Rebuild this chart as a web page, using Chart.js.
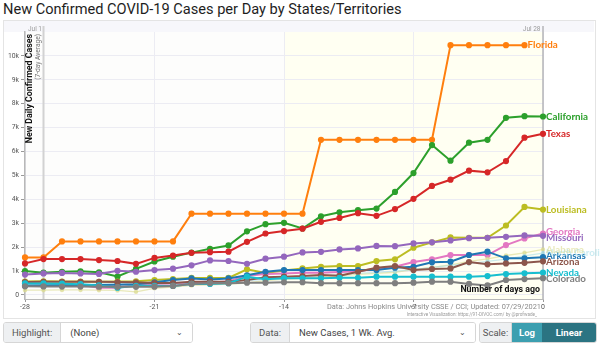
<!DOCTYPE html>
<html><head><meta charset="utf-8">
<script src="https://cdn.jsdelivr.net/npm/chart.js@4"></script>
<style>
body{margin:0;width:600px;height:346px;background:#fff;position:relative;overflow:hidden;font-family:Roboto,"Open Sans",sans-serif}
#title{position:absolute;left:3px;top:0px;font-size:14.6px;color:#1e1e1e;white-space:nowrap;line-height:18px}
#frame{position:absolute;left:3px;top:20px;width:591px;height:297px;border:1px solid #e4e4e4;background:#fff}
#c{position:absolute;left:0;top:0}
.ctl{position:absolute;top:322px;height:21px;display:flex;font-size:9.5px;color:#555;border:1px solid #d6d6d6;border-radius:3px;overflow:hidden;box-sizing:border-box}
.lab{background:#eef0f2;display:flex;align-items:center;padding:0 8px;border-right:1px solid #d6d6d6}
.sel{background:#fff;display:flex;align-items:center;padding:0 9px;flex:1;justify-content:space-between;color:#444}
.chev{font-size:8px;color:#555}
.btn{display:flex;align-items:center;justify-content:center;color:#fff;font-weight:bold}
</style></head>
<body>
<div id="title">New Confirmed COVID-19 Cases per Day by States/Territories</div>
<div id="frame"></div>
<canvas id="c" width="600" height="320"></canvas>
<div class="ctl" style="left:3px;width:190px"><div class="lab">Highlight:</div><div class="sel"><span>(None)</span><span class="chev">&#8964;</span></div></div>
<div class="ctl" style="left:250px;width:226px"><div class="lab">Data:</div><div class="sel"><span>New Cases, 1 Wk. Avg.</span><span class="chev">&#8964;</span></div></div>
<div class="ctl" style="left:479px;width:118px"><div class="lab" style="width:31px;justify-content:center;padding:0">Scale:</div><div class="btn" style="width:30px;background:#3c9fb0">Log</div><div class="btn" style="flex:1;background:#2b7482">Linear</div></div>
<script>
const days = [-28,-27,-26,-25,-24,-23,-22,-21,-20,-19,-18,-17,-16,-15,-14,-13,-12,-11,-10,-9,-8,-7,-6,-5,-4,-3,-2,-1,0];
const xTicks = [-28,-21,-14,-7,0];
const yTicks = [0,1000,2000,3000,4000,5000,6000,7000,8000,9000,10000];
const yTickLabels = ['0','1k','2k','3k','4k','5k','6k','7k','8k','9k','10k'];

const florida    = [1570,1570,2240,2240,2240,2240,2240,2240,2240,3400,3400,3400,3400,3400,3400,3400,6490,6490,6490,6490,6490,6490,6490,10450,10450,10450,10450,10450,null];
const california = [1000,930,970,990,950,770,1090,1400,1600,1770,1930,2070,2660,2960,3015,2780,3290,3460,3545,3615,4310,5100,6270,5615,6370,6490,7410,7480,7465];
const texas      = [1320,1500,1500,1500,1460,1420,1300,1550,1650,1760,1790,1810,2220,2570,2670,2770,3060,3220,3420,3310,3590,4020,4560,4820,5200,5130,5600,6580,6740];
const louisiana  = [560,570,560,560,550,560,570,625,665,710,710,710,1070,920,1020,1110,1180,1210,1210,1420,1490,1975,2200,2405,2390,2390,2905,3680,3570];
const georgia    = [480,470,460,430,300,300,420,470,480,500,520,560,800,880,900,930,930,960,990,1110,1180,1375,1490,1670,1670,1670,2085,2365,2570];
const missouri   = [850,900,920,900,880,1010,970,1040,1100,1240,1445,1420,1305,1515,1600,1780,1805,1905,1945,2050,2040,2155,2200,2280,2375,2390,2430,2490,2475];
const alabama    = [200,200,210,210,200,190,130,280,330,400,420,450,500,600,650,700,760,800,860,900,950,1060,1150,1260,1400,1510,1650,1760,1905];
const ncarolina  = [430,430,440,440,450,460,470,480,500,520,540,560,600,650,700,740,800,850,900,940,1000,1060,1150,1240,1310,1400,1500,1630,1750];
const arkansas   = [380,400,410,420,420,430,450,530,620,690,650,690,820,970,1040,1040,1040,1040,1040,1040,1140,1180,1365,1390,1670,1810,1530,1530,1580];
const arizona    = [540,550,550,550,550,540,530,500,500,555,555,555,625,740,765,790,835,800,970,1140,1210,1040,1085,1110,1375,1280,1320,1345,1405];
const nevada     = [480,480,470,450,400,300,380,380,375,460,460,490,765,655,700,695,695,720,720,765,765,765,765,765,765,790,875,905,930];
const colorado   = [360,355,350,350,345,340,340,345,375,460,490,490,515,515,530,530,490,490,490,490,490,515,555,555,460,400,625,665,700];

const series = [
  {label:'Colorado', data:colorado, color:'#7f7f7f'},
  {label:'Nevada', data:nevada, color:'#17becf'},
  {label:'Arizona', data:arizona, color:'#8c564b'},
  {label:'Arkansas', data:arkansas, color:'#1f77b4'},
  {label:'North Carolina', data:ncarolina, color:'rgba(158,218,229,0.55)', faint:true},
  {label:'Alabama', data:alabama, color:'rgba(219,219,141,0.6)', faint:true},
  {label:'Missouri', data:missouri, color:'#9467bd'},
  {label:'Georgia', data:georgia, color:'#e377c2'},
  {label:'Louisiana', data:louisiana, color:'#bcbd22'},
  {label:'Texas', data:texas, color:'#d62728'},
  {label:'California', data:california, color:'#2ca02c'},
  {label:'Florida', data:florida, color:'#ff7f0e'}
];

const datasets = series.map(s => ({
  label: s.label,
  data: days.map((d,i) => ({x:d, y:s.data[i]})),
  borderColor: s.color,
  backgroundColor: s.color,
  pointBackgroundColor: s.color,
  pointBorderColor: s.color,
  borderWidth: s.faint ? 1.3 : 2,
  pointRadius: s.faint ? 1.6 : 2.1,
  pointHoverRadius: 2,
  tension: 0,
  spanGaps: false,
  clip: 6,
  faint: !!s.faint
}));

const decor = {
  id:'decor',
  beforeDraw(chart){
    const {ctx, chartArea:a, scales:{x,y}} = chart;
    ctx.save();
    ctx.fillStyle = '#f7f7fb';
    ctx.fillRect(4, 21, 590, a.top-21);
    ctx.fillStyle = '#fdfdfc';
    ctx.fillRect(a.left, a.top, a.right-a.left, a.bottom-a.top);
    const x14 = x.getPixelForValue(-14);
    ctx.fillStyle = '#fffff2';
    ctx.fillRect(x14, a.top, a.right-x14, a.bottom-a.top);
    ctx.restore();
  },
  beforeDatasetsDraw(chart){
    const {ctx, chartArea:a, scales:{x,y}} = chart;
    ctx.save();
    const xj1 = x.getPixelForValue(-27);
    ctx.strokeStyle = '#d2d2d2'; ctx.lineWidth = 2;
    ctx.beginPath(); ctx.moveTo(xj1, 26); ctx.lineTo(xj1, a.bottom); ctx.stroke();
    const xj28 = x.getPixelForValue(0);
    ctx.strokeStyle = '#b4b4b8'; ctx.lineWidth = 1.5;
    ctx.beginPath(); ctx.moveTo(xj28, 26); ctx.lineTo(xj28, a.bottom); ctx.stroke();
    ctx.fillStyle = '#9a9a9a'; ctx.font = '6.5px Roboto'; ctx.textAlign='right'; ctx.textBaseline='middle';
    ctx.fillText('Jul 1', xj1-1.5, 29.5);
    ctx.fillText('Jul 28', xj28-2.5, 29.2);
    ctx.restore();
  },
  afterDraw(chart){
    const {ctx, chartArea:a, scales:{x,y}} = chart;
    ctx.save();
    ctx.translate(29.5, 34); ctx.rotate(-Math.PI/2);
    ctx.textAlign='right'; ctx.textBaseline='middle';
    ctx.fillStyle='#111'; ctx.font='bold 8.8px Roboto';
    ctx.fillText('New Daily Confirmed Cases', 0, 0);
    ctx.fillStyle='#777'; ctx.font='6.6px Roboto';
    ctx.fillText('(7-day Average)', 0, 8.8);
    ctx.restore();
    ctx.save();
    ctx.textAlign='right'; ctx.textBaseline='middle';
    ctx.fillStyle='#111'; ctx.font='bold 8.8px Roboto';
    ctx.fillText('Number of days ago', 540, 290);
    ctx.fillStyle='#8a8a8a'; ctx.font='7.4px Roboto';
    ctx.fillText('Data: Johns Hopkins University CSSE / CCI; Updated: 07/29/2021', 541, 307.5);
    ctx.fillStyle='#9a9a9a'; ctx.font='4.6px Roboto';
    ctx.fillText('Interactive Visualization: https://91-DIVOC.com/ by @profwade_', 537, 314.5);
    const items = [];
    chart.data.datasets.forEach((ds, di) => {
      const meta = chart.getDatasetMeta(di);
      let last = -1;
      ds.data.forEach((p,i)=>{ if(p.y!==null) last=i; });
      const pt = meta.data[last];
      items.push({label:ds.label, x:pt.x, y:pt.y, ly:pt.y, color:ds.borderColor, faint:ds.faint});
    });
    const main = items.filter(o=>!o.faint).sort((a,b)=>a.y-b.y);
    for(let it=0; it<30; it++){
      for(let i=1;i<main.length;i++){
        const gap = main[i].ly - main[i-1].ly;
        if(gap < 6){ const d=(6-gap)/2; main[i].ly+=d; main[i-1].ly-=d; }
      }
    }
    ctx.textAlign='left'; ctx.textBaseline='middle';
    items.forEach(o=>{
      ctx.font = 'bold 9.8px Lato';
      ctx.fillStyle = o.color;
      ctx.fillText(o.label, o.x+3, o.ly);
    });
    ctx.restore();
  }
};

new Chart(document.getElementById('c'), {
  type:'line',
  data:{datasets},
  options:{
    responsive:false, animation:false, devicePixelRatio:1,
    layout:{padding:{left:0, right:57, top:32, bottom:0}},
    plugins:{legend:{display:false}, tooltip:{enabled:false}},
    scales:{
      x:{type:'linear', min:-28, max:0,
        afterFit(s){ s.height = 21; },
        afterBuildTicks(s){ s.ticks = xTicks.map(v=>({value:v})); },
        ticks:{font:{size:7, family:'Roboto'}, color:'#555', padding:1, maxRotation:0, callback:v=>String(v)},
        grid:{color:'#ececf3', tickColor:'#999', tickLength:3, lineWidth:1},
        border:{display:true, color:'#b8b8b8', width:1}
      },
      y:{type:'linear', min:-170, max:11000,
        afterFit(s){ s.width = 25; },
        afterBuildTicks(s){ s.ticks = yTicks.map(v=>({value:v})); },
        ticks:{font:{size:6.8, family:'Roboto'}, color:'#555', padding:2,
          callback:(v)=>yTickLabels[yTicks.indexOf(v)]},
        grid:{color:'#ececf3', tickColor:'#999', tickLength:4, lineWidth:1},
        border:{display:true, color:'#b8b8b8', width:1.5}
      }
    }
  },
  plugins:[decor]
});
</script>
</body></html>
